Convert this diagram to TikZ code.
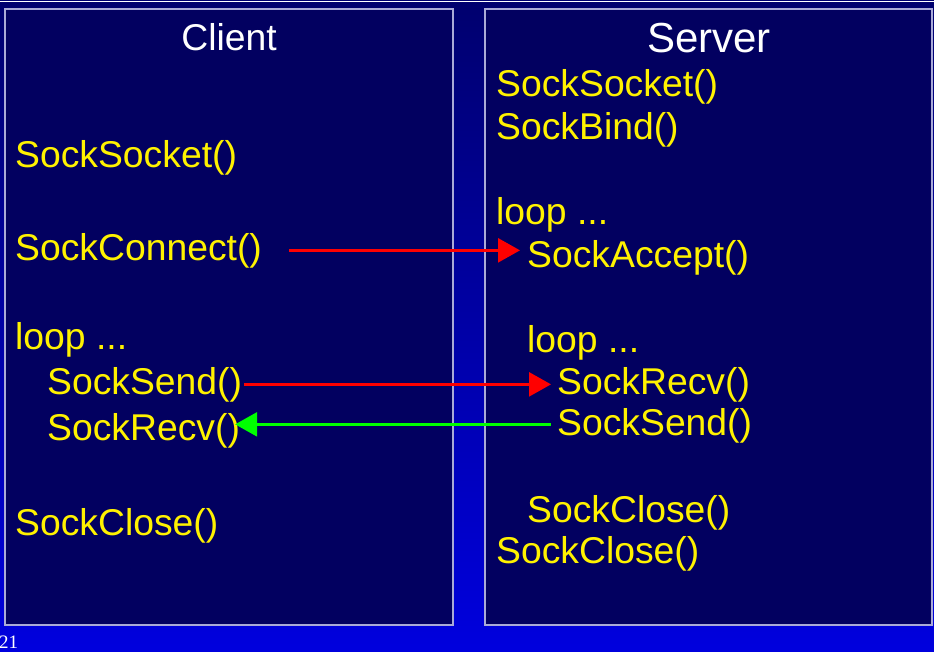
\documentclass[tikz,border=0pt]{standalone}
\usepackage{fontspec}
\setmainfont{Liberation Sans}
\newfontfamily\pagefont{Liberation Serif}
\usetikzlibrary{arrows.meta}

\definecolor{slideback}{RGB}{0,0,110}
\definecolor{slidelow}{RGB}{0,0,222}
\definecolor{panelfill}{RGB}{2,0,96}
\definecolor{panelline}{RGB}{170,170,215}

\begin{document}
\begin{tikzpicture}[x=1pt,y=-1pt]
  \tikzstyle {every node}=[inner sep=0pt,anchor=base west,text=yellow,font=\fontsize{37.3}{40}\selectfont];
  \tikzstyle {panel}=[fill=panelfill,draw=panelline,line width=1.2pt];
  \tikzstyle {sendarrow}=[red,line width=2.6pt,-{Triangle[length=22pt,width=24pt]}];
  \tikzstyle {backarrow}=[green,line width=2.6pt,-{Triangle[length=22pt,width=24pt]}];

  % background and the two panels
  \shade [top color=slideback,bottom color=slidelow] (0,0) rectangle (934,652);
  \useasboundingbox (0,0) rectangle (934,652);
  \draw [white,line width=1pt] (0,1.5) -- (934,1.5);
  \draw [panel] (5,9) rectangle (453,625);
  \draw [panel] (485,9) rectangle (932,625);
  \path (-1,648) node [text=white,font=\pagefont\fontsize{19}{21}\selectfont] (page) {21};

  % client side
  \path (229,51) node [anchor=base,text=white] (client) {Client};
  \path (15,168) node (csocket) {SockSocket()};
  \path (15,261) node (cconnect) {SockConnect()};
  \path (15,349) node (cloop) {loop ...};
  \path (47,394) node (csend) {SockSend()};
  \path (47,440) node (crecv) {SockRecv()};
  \path (15,535) node (cclose) {SockClose()};

  % server side
  \path (709,53) node [anchor=base,text=white,font=\fontsize{42}{46}\selectfont] (server) {Server};
  \path (496,97) node (ssocket) {SockSocket()};
  \path (496,140) node (sbind) {SockBind()};
  \path (496,225) node (sloop) {loop ...};
  \path (527,268) node (saccept) {SockAccept()};
  \path (527,352) node (sloopb) {loop ...};
  \path (557,394) node (srecv) {SockRecv()};
  \path (557,435) node (ssend) {SockSend()};
  \path (527,522) node (sclose) {SockClose()};
  \path (496,563) node (scloseb) {SockClose()};

  \coordinate (conntail) at ([xshift=27pt,yshift=8pt]cconnect.mid east);
  \coordinate (sendtail) at ([xshift=2pt,yshift=7pt]csend.mid east);
  \coordinate (backtail) at ([xshift=-6pt,yshift=8pt]ssend.mid west);
  \draw [sendarrow] (conntail) -- ([xshift=-7pt]saccept.west |- conntail);
  \draw [sendarrow] (sendtail) -- ([xshift=-6pt]srecv.west |- sendtail);
  \draw [backarrow] (backtail) -- ([xshift=-5pt]crecv.east |- backtail);
\end{tikzpicture}
\end{document}
